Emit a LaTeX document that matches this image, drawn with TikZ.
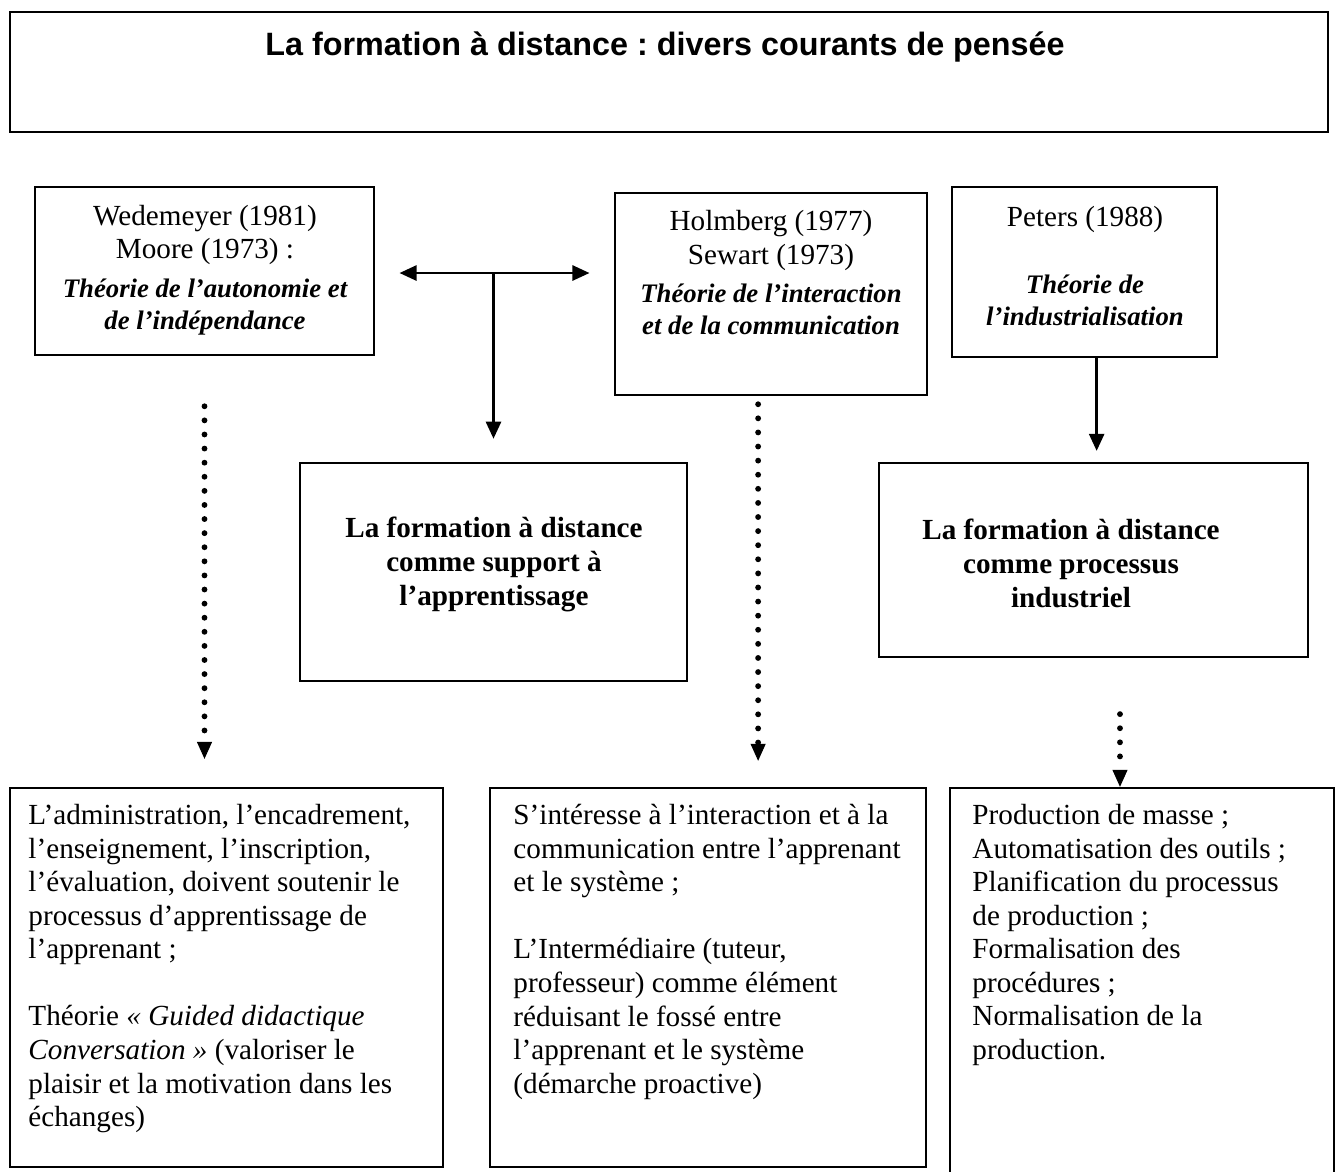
\documentclass[tikz,border=0pt]{standalone}
\usepackage{fontspec}
\setmainfont{Liberation Serif}
\newfontfamily\titlefont{Liberation Sans}
\usetikzlibrary{arrows.meta,positioning,fit}
\frenchspacing

\newcommand{\theorie}[1]{{\fontsize{11}{13}\selectfont\bfseries\itshape #1}}

\tikzset{
  >={Triangle[width=6.2pt,length=7pt]},
  box/.style={draw, line width=1pt, inner sep=0pt},
  txt/.style={align=center, inner sep=0pt, font=\fontsize{12}{13.8}\selectfont},
  bold/.style={txt, font=\fontsize{12}{14}\selectfont\bfseries},
  body/.style={align=left, inner sep=0pt, anchor=north west, font=\fontsize{12}{13.8}\selectfont},
  arr/.style={line width=1pt, ->},
  dots/.style={line width=2.4pt, line cap=round, dash pattern=on 0pt off 5.8pt,
    -{Triangle[width=6.2pt,length=7pt,line width=0.4pt]}}
}

\begin{document}
\begin{tikzpicture}[x=0.4115pt, y=-0.4115pt]
    \useasboundingbox (0,0) rectangle (1338,1171);
    % titre
    \node[box, fit={(10,12) (1328,132)}] (title) {};
    \node[inner sep=0pt, font=\titlefont\bfseries\fontsize{13.3}{16}\selectfont] (titletxt) at (665,47)
        {La formation à distance : divers courants de pensée};
    % courants
    \node[box, fit={(35,187) (374,355)}] (wed) {};
    \node[txt] (wedtxt) at (205,270)
        {Wedemeyer (1981)\\ Moore (1973) :\\[2pt] \theorie{Théorie de l’autonomie et}\\[-0.6pt] \theorie{de l’indépendance}};
    \node[box, fit={(615,193) (927,395)}] (inter) {};
    \node[txt] (intertxt) at (771,273)
        {Holmberg (1977)\\ Sewart (1973)\\[2pt] \theorie{Théorie de l’interaction}\\[-0.6pt] \theorie{et de la communication}};
    \node[box, fit={(952,187) (1217,357)}] (peters) {};
    \node[txt] (peterstxt) at (1085,266)
        {Peters (1988)\\[13.5pt] \theorie{Théorie de}\\[-0.6pt] \theorie{l’industrialisation}};
    % conceptions
    \node[box, fit={(300,463) (687,681)}] (support) {};
    \node[bold] (supporttxt) at (494,564)
        {La formation à distance\\ comme support à\\ l’apprentissage};
    \node[box, fit={(879,463) (1308,657)}] (indus) {};
    \node[bold] (industxt) at (1071,563)
        {La formation à distance\\ comme processus\\ industriel};
    % caracteristiques
    \node[box, fit={(10,788) (443,1167)}] (admin) {};
    \node[body] (admintxt) at (28,804)
        {L’administration, l’encadrement,\\ l’enseignement, l’inscription,\\ l’évaluation, doivent soutenir le\\
         processus d’apprentissage de\\ l’apprenant ;\\[13.8pt]
         Théorie \textit{« Guided didactique}\\ \textit{Conversation »} (valoriser le\\
         plaisir et la motivation dans les\\ échanges)};
    \node[box, fit={(490,788) (926,1167)}] (commu) {};
    \node[body] (commutxt) at (513,804)
        {S’intéresse à l’interaction et à la\\ communication entre l’apprenant\\ et le système ;\\[13.8pt]
         L’Intermédiaire (tuteur,\\ professeur) comme élément\\ réduisant le fossé entre\\
         l’apprenant et le système\\ (démarche proactive)};
    \node[box, fit={(950,788) (1334,1190)}] (prod) {};
    \node[body] (prodtxt) at (972,804)
        {Production de masse ;\\ Automatisation des outils ;\\ Planification du processus\\
         de production ;\\ Formalisation des\\ procédures ;\\ Normalisation de la\\ production.};
    % liens
    \coordinate (tee) at (support.north |- 0,273);
    \draw[line width=1pt, <->, shorten <=10pt, shorten >=10pt] (wed.east |- tee) -- (inter.west |- tee);
    \draw[arr, shorten >=9.5pt] (tee) -- (support.north);
    \draw[arr, shorten >=4.5pt] ([xshift=5pt]peters.south) -- ([xshift=5pt]peters.south |- indus.north);
    \draw[dots, shorten <=20.6pt, shorten >=11.5pt] (wed.south) -- (wed.south |- admin.north);
    \draw[dots, shorten <=3.3pt, shorten >=10.7pt] ([xshift=-5.3pt]inter.south) -- ([xshift=-5.3pt]inter.south |- commu.north);
    \draw[dots, shorten <=23pt] ([xshift=10.9pt]indus.south) -- ([xshift=10.9pt]indus.south |- prod.north);
\end{tikzpicture}
\end{document}
